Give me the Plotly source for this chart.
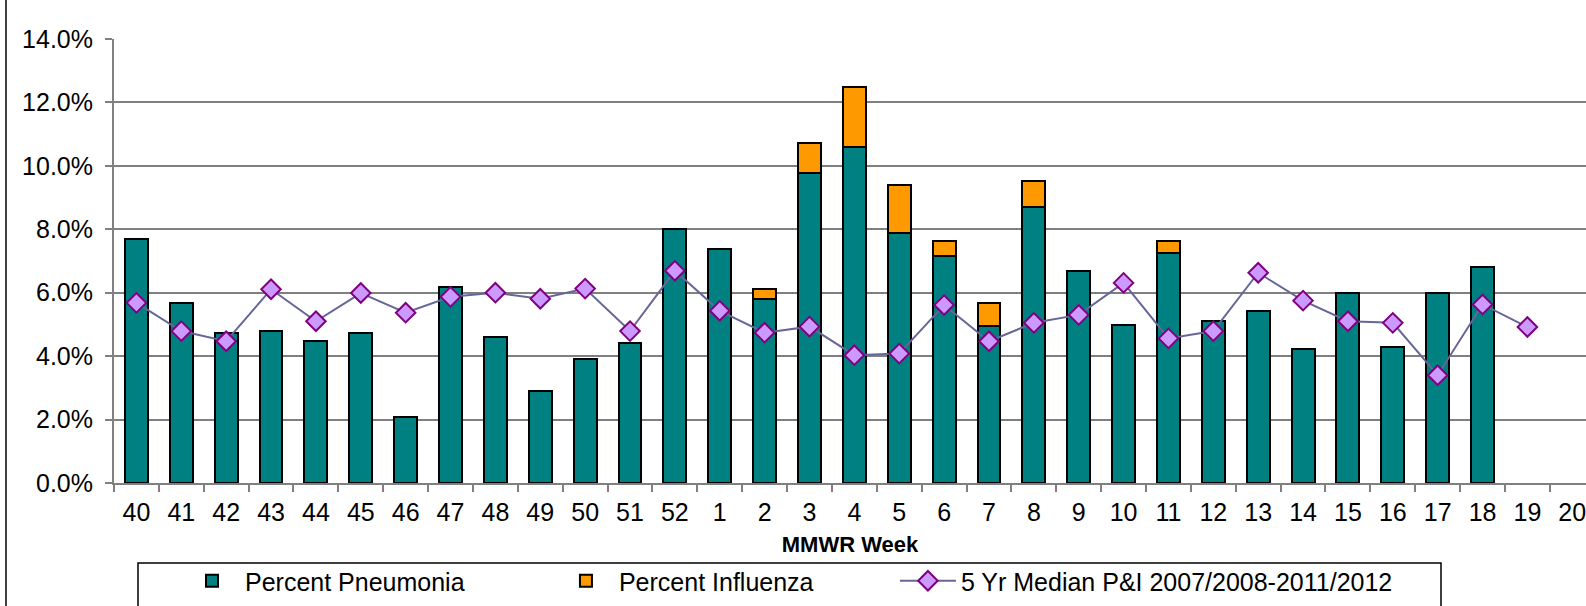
import plotly.graph_objects as go

weeks = ["40", "41", "42", "43", "44", "45", "46", "47", "48", "49", "50", "51", "52",
         "1", "2", "3", "4", "5", "6", "7", "8", "9", "10", "11", "12", "13", "14",
         "15", "16", "17", "18", "19", "20"]

pneumonia = [7.69, 5.67, 4.73, 4.79, 4.47, 4.73, 2.07, 6.18, 4.61, 2.91, 3.91, 4.41, 8.01,
             7.38, 5.79, 9.77, 10.59, 7.88, 7.17, 4.96, 8.71, 6.68, 4.98, 7.24, 5.10, 5.43, 4.22,
             6.00, 4.28, 6.00, 6.82, None, None]

influenza = [None, None, None, None, None, None, None, None, None, None, None, None, None,
             None, 0.33, 0.96, 1.90, 1.52, 0.46, 0.71, 0.82, None, None, 0.39, None, None, None,
             None, None, None, None, None, None]

median_5yr = [5.68, 4.79, 4.47, 6.11, 5.10, 5.99, 5.37, 5.87, 6.00, 5.81, 6.13, 4.79, 6.69,
              5.43, 4.74, 4.93, 4.03, 4.08, 5.61, 4.47, 5.05, 5.30, 6.31, 4.56, 4.79, 6.63, 5.75,
              5.10, 5.05, 3.40, 5.63, 4.92, None]

series_names = ["Percent Pneumonia", "Percent Influenza", "5 Yr Median P&I 2007/2008-2011/2012"]

FONT = "Liberation Sans, Arial, sans-serif"
NB = "\u00a0"

fig = go.Figure()
fig.add_trace(go.Bar(
    x=weeks, y=pneumonia, name=series_names[0] + NB * 12,
    marker=dict(color="#008080", line=dict(color="#000000", width=2)),
))
fig.add_trace(go.Bar(
    x=weeks, y=influenza, name=series_names[1] + NB * 11,
    marker=dict(color="#FF9900", line=dict(color="#000000", width=2)),
))
fig.add_trace(go.Scatter(
    x=weeks, y=median_5yr, name=series_names[2],
    mode="lines+markers",
    line=dict(color="#666699", width=2),
    marker=dict(symbol="diamond", size=15, color="#CC99FF",
                line=dict(color="#800080", width=2)),
))

W, H = 1586, 606
L, R, T, B = 114, 0, 39, 123
plot_w = W - L - R
plot_h = H - T - B
plot_bottom = H - B
cat_px = 44.87
x_max = -0.5 + plot_w / cat_px


def py(p):
    return (plot_bottom - p) / plot_h


def px(p):
    return (p - L) / plot_w


fig.update_layout(
    width=W, height=H,
    margin=dict(l=L, r=R, t=T, b=B, pad=0, autoexpand=False),
    paper_bgcolor="white", plot_bgcolor="white",
    barmode="stack", bargap=0.49,
    font=dict(family=FONT, size=25, color="#000000"),
    showlegend=True,
    legend=dict(
        orientation="h",
        x=px(179), xanchor="left",
        y=py(581), yanchor="middle",
        bgcolor="rgba(0,0,0,0)", borderwidth=0,
        font=dict(family=FONT, size=25, color="#000000"),
        itemwidth=56,
        traceorder="normal",
        itemclick=False,
    ),
    xaxis=dict(
        type="category",
        automargin=False,
        range=[-0.5, x_max],
        tickson="boundaries",
        ticks="outside", ticklen=7, tickwidth=1.5, tickcolor="#808080",
        showline=True, linecolor="#808080", linewidth=2,
        showgrid=False,
        tickfont=dict(family=FONT, size=25, color="#000000"),
        ticklabelstandoff=6,
        title=dict(text="<b>MMWR Week</b>", font=dict(family=FONT, size=22, color="#000000"),
                   standoff=12),
    ),
    yaxis=dict(
        automargin=False,
        range=[0, 14], dtick=2, tick0=0,
        ticksuffix="%", tickformat=".1f",
        ticks="outside", ticklen=7, tickwidth=1.5, tickcolor="#808080",
        showline=True, linecolor="#808080", linewidth=2,
        showgrid=True, gridcolor="#808080", gridwidth=1.5,
        zeroline=False,
        tickfont=dict(family=FONT, size=25, color="#000000"),
        ticklabelstandoff=7,
    ),
    shapes=[
        dict(type="line", xref="paper", yref="paper",
             x0=px(6), x1=px(6), y0=py(H + 5), y1=py(-5),
             line=dict(color="#000000", width=1.5)),
        dict(type="rect", xref="paper", yref="paper",
             x0=px(138), x1=px(1441), y0=py(H + 20), y1=py(563),
             line=dict(color="#000000", width=1.5), fillcolor="rgba(0,0,0,0)"),
    ],
)

fig.write_html("out.html",
               config={"displayModeBar": False},
               post_script="document.body.style.margin='0px';document.body.style.overflow='hidden';")
